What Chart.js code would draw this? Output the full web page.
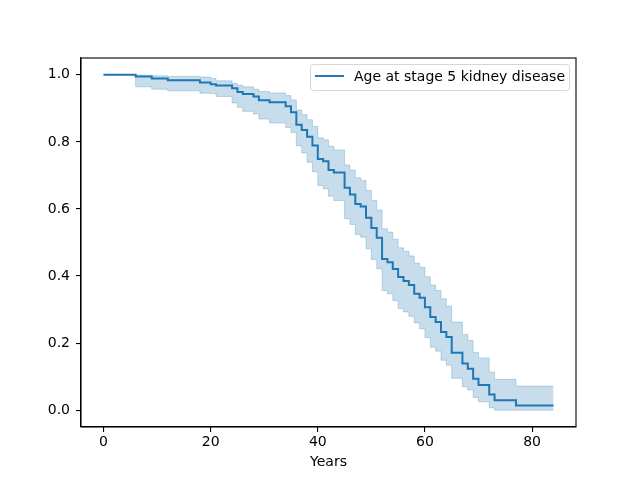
<!DOCTYPE html>
<html>
<head>
<meta charset="utf-8">
<script src="https://cdn.jsdelivr.net/npm/chart.js@4.4.1/dist/chart.umd.min.js"></script>
<style>
  html, body { margin: 0; padding: 0; background: #fff; }
  #wrap { width: 640px; height: 480px; }
</style>
</head>
<body>
<div id="wrap"><canvas id="kmChart" width="640" height="480"></canvas></div>
<script>
// Kaplan-Meier estimate (years, survival, 95% CI)
const times = [0, 6, 9, 12, 18, 20, 21, 24, 25, 26, 28, 29, 31, 34, 35, 36, 37, 38, 39, 40,
  41, 42, 43, 45, 46, 47, 48, 49, 50, 51, 52, 53, 54, 55, 56, 57, 58, 59, 60, 61,
  62, 63, 64, 65, 67, 68, 69, 70, 72, 73, 77, 84];
const survival = [1.0, 0.995, 0.989, 0.984, 0.977, 0.972, 0.968, 0.960, 0.949, 0.943, 0.935, 0.924, 0.918, 0.906, 0.888, 0.851, 0.835, 0.815, 0.789, 0.749,
  0.742, 0.716, 0.709, 0.663, 0.643, 0.615, 0.607, 0.574, 0.543, 0.514, 0.451, 0.441, 0.421, 0.397, 0.385, 0.373, 0.347, 0.335, 0.307, 0.278,
  0.263, 0.233, 0.218, 0.171, 0.139, 0.124, 0.094, 0.075, 0.047, 0.030, 0.014, 0.014];
const ciLower = [1.0, 0.964, 0.957, 0.952, 0.945, 0.944, 0.935, 0.916, 0.903, 0.891, 0.883, 0.868, 0.856, 0.843, 0.828, 0.788, 0.767, 0.739, 0.711, 0.670,
  0.660, 0.638, 0.625, 0.571, 0.554, 0.524, 0.516, 0.481, 0.449, 0.422, 0.357, 0.347, 0.327, 0.303, 0.293, 0.280, 0.260, 0.243, 0.216, 0.188,
  0.176, 0.149, 0.134, 0.095, 0.070, 0.060, 0.038, 0.025, 0.007, 0.0, 0.0, 0.0];
const ciUpper = [1.0, 0.999, 0.997, 0.995, 0.993, 0.989, 0.982, 0.974, 0.969, 0.964, 0.957, 0.950, 0.946, 0.938, 0.925, 0.895, 0.881, 0.866, 0.846, 0.812,
  0.806, 0.787, 0.776, 0.731, 0.716, 0.693, 0.685, 0.655, 0.625, 0.597, 0.541, 0.531, 0.510, 0.484, 0.474, 0.460, 0.438, 0.426, 0.398, 0.373,
  0.357, 0.332, 0.310, 0.263, 0.226, 0.208, 0.172, 0.156, 0.114, 0.092, 0.072, 0.072];
const xTicks = [0, 20, 40, 60, 80];
const yTicks = [0.0, 0.2, 0.4, 0.6, 0.8, 1.0];
const seriesLabel = 'Age at stage 5 kidney disease';

const blue = 'rgb(31,119,180)';
const bandFill = 'rgba(31,119,180,0.25)';
const FONT = 'DejaVu Sans';

function pts(vals) {
  return times.map((t, i) => ({ x: t, y: vals[i] }));
}

// full box around the plot area + legend drawn inside it
const framePlugin = {
  id: 'frame',
  afterDraw(chart) {
    const { ctx, chartArea: a } = chart;
    ctx.save();
    ctx.strokeStyle = '#000';
    ctx.lineWidth = 1.1;
    ctx.strokeRect(a.left, a.top, a.right - a.left, a.bottom - a.top);

    // legend box
    const bx = 310.5, by = 64.5, bw = 259, bh = 26, r = 3;
    ctx.beginPath();
    ctx.moveTo(bx + r, by);
    ctx.arcTo(bx + bw, by, bx + bw, by + bh, r);
    ctx.arcTo(bx + bw, by + bh, bx, by + bh, r);
    ctx.arcTo(bx, by + bh, bx, by, r);
    ctx.arcTo(bx, by, bx + bw, by, r);
    ctx.closePath();
    ctx.fillStyle = 'rgba(255,255,255,0.8)';
    ctx.fill();
    ctx.strokeStyle = '#d6d6d6';
    ctx.lineWidth = 1;
    ctx.stroke();

    ctx.beginPath();
    ctx.moveTo(315, 76);
    ctx.lineTo(344, 76);
    ctx.strokeStyle = blue;
    ctx.lineWidth = 2;
    ctx.stroke();

    ctx.fillStyle = '#000';
    ctx.font = '14px "' + FONT + '"';
    ctx.textBaseline = 'middle';
    ctx.textAlign = 'left';
    ctx.fillText(chart.data.datasets[2].label, 354, 77);
    ctx.restore();
  }
};

const ctx = document.getElementById('kmChart').getContext('2d');
const kmChart = new Chart(ctx, {
  type: 'line',
  data: {
    datasets: [
      {
        label: 'lower',
        data: pts(ciLower),
        stepped: 'before',
        borderColor: bandFill,
        borderWidth: 1,
        backgroundColor: bandFill,
        pointRadius: 0,
        fill: false
      },
      {
        label: 'upper',
        data: pts(ciUpper),
        stepped: 'before',
        borderColor: bandFill,
        borderWidth: 1,
        backgroundColor: bandFill,
        pointRadius: 0,
        fill: '-1'
      },
      {
        label: seriesLabel,
        data: pts(survival),
        stepped: 'before',
        borderColor: blue,
        borderWidth: 2,
        pointRadius: 0,
        fill: false
      }
    ]
  },
  options: {
    responsive: false,
    animation: false,
    devicePixelRatio: 1,
    layout: { padding: { left: 0, right: 64, top: 58, bottom: 0 } },
    plugins: {
      legend: { display: false },
      tooltip: { enabled: false }
    },
    scales: {
      x: {
        type: 'linear',
        min: -4.2,
        max: 88.2,
        afterBuildTicks: s => { s.ticks = xTicks.map(v => ({ value: v })); },
        afterFit: s => { s.height = 53; },
        grid: { drawOnChartArea: false, tickLength: 5, color: '#000', lineWidth: 1.1 },
        border: { color: '#000', width: 1.1 },
        ticks: { color: '#000', font: { family: FONT, size: 14 }, padding: 2, maxRotation: 0 },
        title: { display: true, text: 'Years', color: '#000', font: { family: FONT, size: 14 }, padding: { top: 2, bottom: 9 } }
      },
      y: {
        type: 'linear',
        min: -0.05,
        max: 1.05,
        afterBuildTicks: s => { s.ticks = yTicks.map(v => ({ value: v })); },
        afterFit: s => { s.width = 81; },
        grid: { drawOnChartArea: false, tickLength: 5, color: '#000', lineWidth: 1.1 },
        border: { color: '#000', width: 1.1 },
        ticks: { color: '#000', font: { family: FONT, size: 14 }, padding: 6, callback: v => v.toFixed(1) }
      }
    }
  },
  plugins: [framePlugin]
});
</script>
</body>
</html>
